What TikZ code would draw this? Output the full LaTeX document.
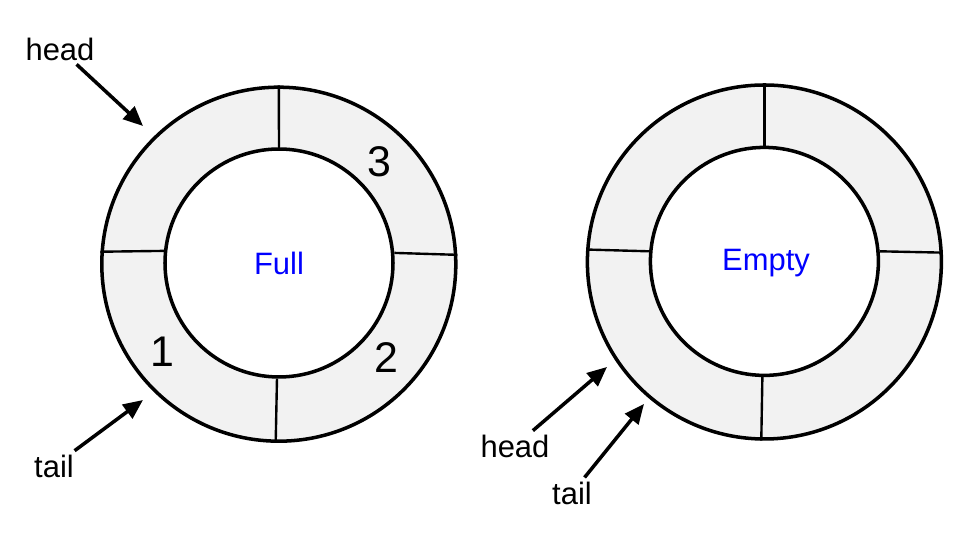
\documentclass[tikz,border=0pt]{standalone}
\usepackage{fontspec}
\setmainfont{Liberation Sans}
\usepackage{tikz}
\usetikzlibrary{arrows.meta, positioning}
\definecolor{slotgray}{RGB}{242,242,242}

\begin{document}
\begin{tikzpicture}[
    ringout/.style={circle, draw, line width=2.5pt, fill=slotgray, minimum size=8.85cm, inner sep=0pt},
    ringin/.style={circle, draw, line width=2.5pt, fill=white, minimum size=5.7cm, inner sep=0pt},
    divider/.style={line width=1.7pt},
    ptr/.style={-{Triangle[length=14pt, width=12pt]}, line width=2.5pt, shorten <=1pt},
    lbl/.style={font=\fontsize{22}{25}\selectfont, inner sep=2pt},
    num/.style={font=\fontsize{30.5}{34}\selectfont, inner sep=0pt},
    state/.style={font=\fontsize{22}{25}\selectfont, text=blue, inner sep=0pt}
]
        \useasboundingbox (0,0) rectangle (24.175,13.925);

        % Full buffer
        \node[ringout] (fullout) at (6.97,7.32) {};
        \node[ringin] (fullin) at (6.975,7.35) {};
        \draw[divider] (fullout.90.4) -- (fullin.90.6);
        \draw[divider] (fullout.176.5) -- (fullin.174.5);
        \draw[divider] (fullout.3.5) -- (fullin.5.5);
        \draw[divider] (fullout.269.4) -- (fullin.269.2);
        \node[state] (full) at (6.975,7.342) {Full};
        \node[num] (slot1) at (4.05,5.125) {1};
        \node[num] (slot2) at (9.65,4.975) {2};
        \node[num] (slot3) at (9.475,9.875) {3};

        % pointers of the full buffer
        \node[lbl] (headfull) at (1.5,12.7) {head};
        \node[lbl] (tailfull) at (1.35,2.275) {tail};
        \coordinate (headfulltip) at (3.575,10.775);
        \coordinate (tailfulltip) at (3.575,3.925);
        \draw[ptr] (headfull) -- (headfulltip);
        \draw[ptr] (tailfull) -- (tailfulltip);

        % Empty buffer
        \node[ringout] (emptyout) at (19.11,7.375) {};
        \node[ringin] (emptyin) at (19.11,7.39) {};
        \draw[divider] (emptyout.90.5) -- (emptyin.90.7);
        \draw[divider] (emptyout.176.7) -- (emptyin.175);
        \draw[divider] (emptyout.3.5) -- (emptyin.5.3);
        \draw[divider] (emptyout.269.6) -- (emptyin.269.5);
        \node[state] (empty) at (19.15,7.34) {Empty};

        % pointers of the empty buffer
        \node[lbl] (headempty) at (12.875,2.775) {head};
        \node[lbl] (tailempty) at (14.3,1.6) {tail};
        \coordinate (heademptytip) at (15.175,4.75);
        \coordinate (tailemptytip) at (16.1,3.825);
        \draw[ptr] (headempty) -- (heademptytip);
        \draw[ptr] (tailempty) -- (tailemptytip);
    \end{tikzpicture}
\end{document}
